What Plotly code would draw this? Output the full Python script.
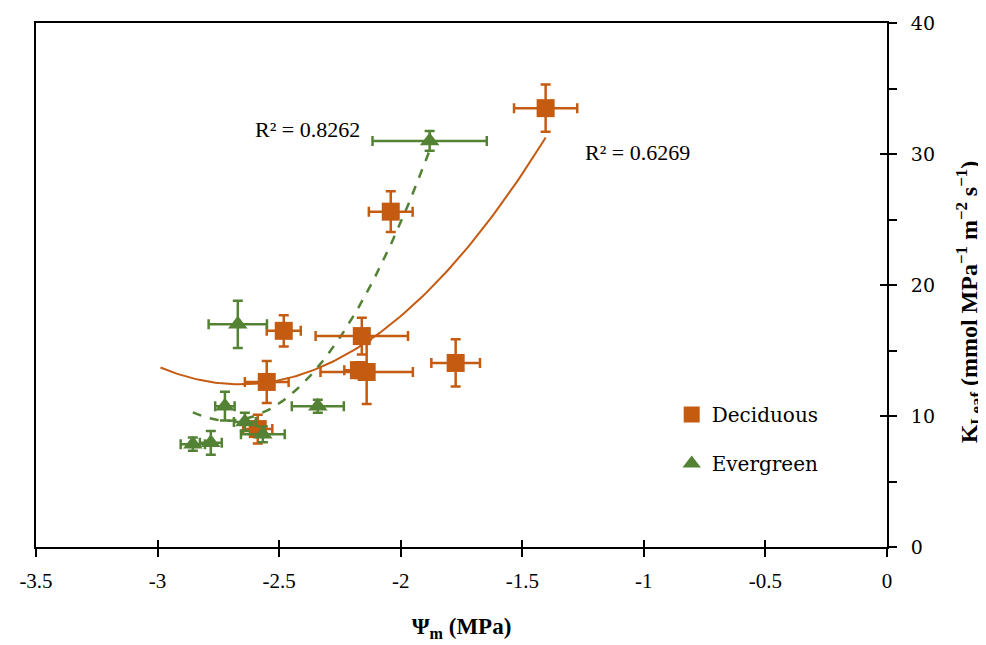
import numpy as np
import plotly.graph_objects as go

# ---------------- data ----------------
dec_x = [-1.404, -2.041, -2.481, -2.160, -2.172, -2.140, -1.774, -2.551, -2.588]
dec_y = [33.5, 25.6, 16.5, 16.1, 13.5, 13.36, 14.05, 12.6, 9.0]
dec_xerr = [0.13, 0.09, 0.07, 0.19, 0.06, 0.19, 0.10, 0.09, 0.06]
dec_yerr = [1.8, 1.55, 1.2, 1.4, 0.6, 2.45, 1.8, 1.6, 1.1]

eve_x = [-1.881, -2.670, -2.341, -2.723, -2.641, -2.567, -2.781, -2.855]
eve_y = [31.0, 17.0, 10.75, 10.75, 9.55, 8.6, 7.95, 7.85]
eve_xerr = [0.235, 0.12, 0.107, 0.04, 0.045, 0.09, 0.045, 0.05]
eve_yerr = [0.75, 1.8, 0.5, 1.1, 0.7, 0.6, 0.9, 0.5]

dec_backward_forecast = 0.4
r2_labels = ["R² = 0.8262", "R² = 0.6269"]
x_ticks = [-3.5, -3, -2.5, -2, -1.5, -1, -0.5, 0]
y_ticks = [0, 10, 20, 30, 40]

ORANGE = "#C55A11"
GREEN = "#548235"
SERIF = "Liberation Serif"
SERIF2 = "DejaVu Serif"

# ---------------- polynomial (order 2) trendlines ----------------
dc = np.polyfit(dec_x, dec_y, 2)
dtx = np.linspace(min(dec_x) - dec_backward_forecast, max(dec_x), 120)
dty = np.polyval(dc, dtx)

ec = np.polyfit(eve_x, eve_y, 2)
etx = np.linspace(min(eve_x), max(eve_x), 120)
ety = np.polyval(ec, etx)

fig = go.Figure()

fig.add_trace(go.Scatter(x=dtx, y=dty, mode="lines", line=dict(color=ORANGE, width=2),
                         showlegend=False, hoverinfo="skip"))
fig.add_trace(go.Scatter(x=etx, y=ety, mode="lines", line=dict(color=GREEN, width=2.5, dash="dash"),
                         showlegend=False, hoverinfo="skip"))

fig.add_trace(go.Scatter(
    x=dec_x, y=dec_y, mode="markers", name="Deciduous", legendgroup="d",
    marker=dict(symbol="square", size=18, color=ORANGE),
    error_x=dict(type="data", array=dec_xerr, color=ORANGE, thickness=2.5, width=5),
    error_y=dict(type="data", array=dec_yerr, color=ORANGE, thickness=2.5, width=5),
))
fig.add_trace(go.Scatter(
    x=eve_x, y=eve_y, mode="markers", name="Evergreen", legendgroup="e",
    marker=dict(symbol="triangle-up", size=17, color=GREEN),
    error_x=dict(type="data", array=eve_xerr, color=GREEN, thickness=2.5, width=5),
    error_y=dict(type="data", array=eve_yerr, color=GREEN, thickness=2.5, width=5),
))

fig.add_annotation(x=-2.382, y=31.9, text=r2_labels[0], showarrow=False,
                   font=dict(family=SERIF, size=22, color="black"))
fig.add_annotation(x=-1.026, y=30.1, text=r2_labels[1], showarrow=False,
                   font=dict(family=SERIF, size=22, color="black"))

# y-axis title (right side, rotated)
fig.add_annotation(
    xref="paper", yref="paper", x=1.0964, y=0.467, xanchor="center", yanchor="middle",
    textangle=-90, showarrow=False,
    text="<b>K<sub>Leaf</sub> (mmol MPa<sup>−1</sup> m<sup>−2</sup> s<sup>−1</sup>)</b>",
    font=dict(family=SERIF, size=24, color="black"),
)

fig.update_layout(
    width=986, height=645,
    margin=dict(l=28, r=107, t=15, b=106),
    paper_bgcolor="white", plot_bgcolor="white",
    font=dict(family=SERIF, color="black"),
    legend=dict(x=0.747, y=0.29, xanchor="left", yanchor="top",
                font=dict(family=SERIF2, size=20, color="black"),
                tracegroupgap=20, traceorder="grouped", bgcolor="rgba(0,0,0,0)",
                itemwidth=30),
    xaxis=dict(
        range=[-3.5, 0], tickvals=x_ticks, ticktext=[f"{v:g}" for v in x_ticks],
        showgrid=False, zeroline=False, automargin=False,
        showline=True, linecolor="black", linewidth=2, mirror=True,
        ticks="outside", ticklen=8, tickwidth=2, tickcolor="black",
        tickfont=dict(family=SERIF, size=21, color="black"),
        ticklabelstandoff=6,
        title=dict(text="<b>Ψ<sub>m</sub> (MPa)</b>", font=dict(family=SERIF, size=23, color="black"),
                   standoff=26),
    ),
    xaxis2=dict(
        range=[-3.5, 0], tickvals=x_ticks, overlaying="x", side="bottom",
        showgrid=False, zeroline=False, showline=False, showticklabels=False,
        ticks="inside", ticklen=7, tickwidth=2, tickcolor="black", anchor="y",
    ),
    yaxis=dict(
        range=[0, 40], tickvals=y_ticks, side="right",
        showgrid=False, zeroline=False, automargin=False,
        showline=True, linecolor="black", linewidth=2, mirror=True,
        ticks="outside", ticklen=8, tickwidth=2, tickcolor="black",
        minor=dict(dtick=5, ticks="outside", ticklen=8, tickwidth=2, tickcolor="black", showgrid=False),
        tickfont=dict(family=SERIF2, size=19, color="black"),
        ticklabelstandoff=10,
    ),
    yaxis2=dict(
        range=[0, 40], tickvals=y_ticks, overlaying="y", side="right",
        showgrid=False, zeroline=False, showline=False, showticklabels=False,
        ticks="inside", ticklen=7, tickwidth=2, tickcolor="black", anchor="x",
    ),
)

# an invisible trace on the overlay axes so they are drawn
fig.add_trace(go.Scatter(x=[None], y=[None], xaxis="x2", yaxis="y2", showlegend=False, hoverinfo="skip"))

fig.write_html("out.html")
